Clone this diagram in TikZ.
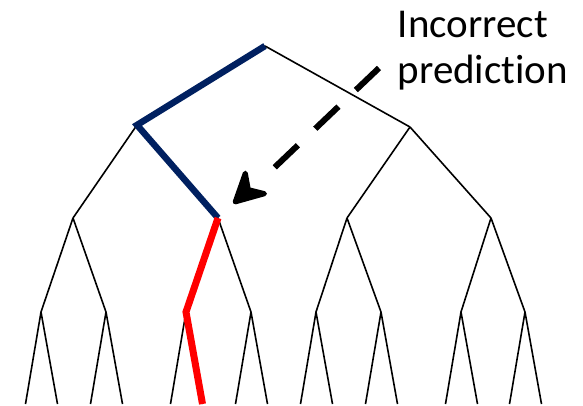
\documentclass[tikz,border=0pt]{standalone}
\usepackage{fontspec}
\setmainfont{Carlito}[Ligatures=NoCommon]
\definecolor{navy}{HTML}{002060}
\begin{document}
\begin{tikzpicture}[x=1pt,y=-1pt,
  edge/.style={draw=black,line width=1.6pt},
  bluepath/.style={draw=navy,line width=6.5pt,line join=miter},
  redpath/.style={draw=red,line width=7pt,line join=miter},
  hintshaft/.style={draw=black,line width=6pt,dash pattern=on 32pt off 24pt},
  hinthead/.style={draw=black,fill=black,line width=5pt,line join=round}]
\useasboundingbox (0,0) rectangle (583,406);
% levels
\coordinate (r) at (265,46);
\coordinate (a) at (137,125);
\coordinate (b) at (410,127);
\coordinate (aa) at (73,218);
\coordinate (ab) at (218,218);
\coordinate (ba) at (347,218);
\coordinate (bb) at (491,218);
\foreach \n/\x in {aaa/41,aab/106,aba/186,abb/251,baa/316,bab/381,bba/461,bbb/525}{
  \coordinate (\n) at (\x,312);
  \coordinate (\n L) at (\x-15.5,404);
  \coordinate (\n R) at (\x+16.5,404);
}
% black tree
\draw[edge] (r) -- (a) (r) -- (b);
\draw[edge] (a) -- (aa) (a) -- (ab) (b) -- (ba) (b) -- (bb);
\draw[edge] (aa) -- (aaa) (aa) -- (aab) (ab) -- (aba) (ab) -- (abb)
            (ba) -- (baa) (ba) -- (bab) (bb) -- (bba) (bb) -- (bbb);
\foreach \n in {aaa,aab,aba,abb,baa,bab,bba,bbb}
  \draw[edge] (\n) -- (\n L) (\n) -- (\n R);
% highlighted paths
\draw[bluepath] (r) -- (a) -- (ab);
\draw[redpath] (ab) -- (aba) -- (abaR);
% label and arrow
\node[anchor=base west,align=left,font=\fontsize{41}{46}\selectfont,inner sep=0pt] (lbl) at (397.5,83.3) {Incorrect\\prediction};
\coordinate (hs) at (379,68);
\coordinate (hm) at (274,168);
\coordinate (ht) at (233,204);
\draw[hintshaft] (hs) -- (hm);
\path[hinthead] (ht) ++(2.2,-2.1) -- ++(10.1,-28.7) -- ++(3.0,16.4) -- ++(16.2,4.1) -- cycle;
\end{tikzpicture}
\end{document}
